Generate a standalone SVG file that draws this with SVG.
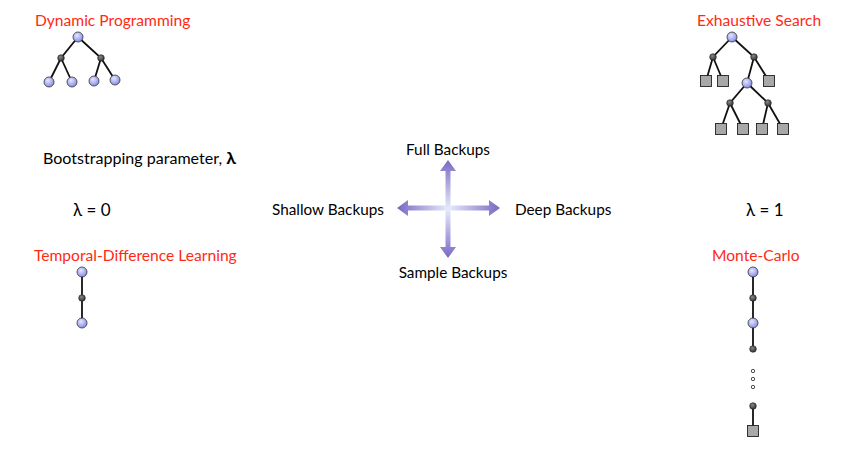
<svg xmlns="http://www.w3.org/2000/svg" width="845" height="454" viewBox="0 0 845 454">
<defs>
<radialGradient id="gb" cx="0.4" cy="0.35" r="0.7"><stop offset="0" stop-color="#e4e6ff"/><stop offset="1" stop-color="#7f86e6"/></radialGradient>
<radialGradient id="gd" cx="0.4" cy="0.35" r="0.7"><stop offset="0" stop-color="#888"/><stop offset="1" stop-color="#2a2a2a"/></radialGradient>
<linearGradient id="gh" x1="397" y1="0" x2="500" y2="0" gradientUnits="userSpaceOnUse"><stop offset="0" stop-color="#7868c4"/><stop offset="0.5" stop-color="#e6ecfb"/><stop offset="1" stop-color="#7868c4"/></linearGradient>
<linearGradient id="gv" x1="0" y1="160" x2="0" y2="258" gradientUnits="userSpaceOnUse"><stop offset="0" stop-color="#7868c4"/><stop offset="0.5" stop-color="#e6ecfb"/><stop offset="1" stop-color="#7868c4"/></linearGradient>
</defs>
<style>
text{font-family:"Lato","Liberation Sans",sans-serif;font-size:15.3px;fill:#000}
.r{fill:#ff2a14;font-size:15.6px}
.l{font-size:17px}
.e{stroke:#111;stroke-width:1.8;fill:none}
.b{fill:url(#gb);stroke:#333;stroke-width:0.8}
.d{fill:url(#gd);stroke:#222;stroke-width:0.6}
.s{fill:#a8a8a8;stroke:#222;stroke-width:0.9}
.o{fill:#fff;stroke:#222;stroke-width:0.8}
</style>
<g id="dp">
<text class="r" x="35" y="26">Dynamic Programming</text>
<path class="e" d="M78 37L61 58L49 82M61 58L72 82M78 37L101 58L94 81M101 58L115 80"/>
<circle class="b" cx="78" cy="37" r="5"/>
<circle class="d" cx="61" cy="58" r="3.3"/><circle class="d" cx="101" cy="58" r="3.3"/>
<circle class="b" cx="49" cy="82" r="5"/><circle class="b" cx="72" cy="82" r="5"/><circle class="b" cx="94" cy="81" r="5"/><circle class="b" cx="115" cy="80" r="5"/>
</g>
<g id="es">
<text class="r" x="697" y="26">Exhaustive Search</text>
<path class="e" d="M732 37L713 57L706 81M713 57L723 81M732 37L754 57L747 83M754 57L769 81M747 83L730 103L721 129M730 103L743 129M747 83L768 103L762 129M768 103L783 129"/>
<circle class="b" cx="732" cy="37" r="5"/>
<circle class="d" cx="713" cy="57" r="3.3"/><circle class="d" cx="754" cy="57" r="3.3"/>
<rect class="s" x="700.5" y="75.5" width="11" height="11"/><rect class="s" x="717.5" y="75.5" width="11" height="11"/><rect class="s" x="763.5" y="75.5" width="11" height="11"/>
<circle class="b" cx="747" cy="83" r="5"/>
<circle class="d" cx="730" cy="103" r="3.3"/><circle class="d" cx="768" cy="103" r="3.3"/>
<rect class="s" x="715.5" y="123.5" width="11" height="11"/><rect class="s" x="737.5" y="123.5" width="11" height="11"/><rect class="s" x="756.5" y="123.5" width="11" height="11"/><rect class="s" x="777.5" y="123.5" width="11" height="11"/>
</g>
<g id="labels">
<text x="43" y="164" textLength="193" lengthAdjust="spacingAndGlyphs">Bootstrapping parameter, <tspan class="l" font-weight="bold">λ</tspan></text>
<text class="l" x="73" y="216">λ = 0</text>
<text class="l" x="746" y="216">λ = 1</text>
<text x="448" y="155" text-anchor="middle">Full Backups</text>
<text x="272" y="215">Shallow Backups</text>
<text x="515" y="215">Deep Backups</text>
<text x="453" y="278" text-anchor="middle">Sample Backups</text>
</g>
<g id="connectors">
<path fill="url(#gh)" d="M397 208L408 200L408 205.5L489 205.5L489 200L500 208L489 216L489 210.5L408 210.5L408 216Z"/>
<path fill="url(#gv)" d="M448 160L456 171L450.5 171L450.5 247L456 247L448 258L440 247L445.5 247L445.5 171L440 171Z"/>
</g>
<g id="td">
<text class="r" x="34" y="261">Temporal-Difference Learning</text>
<path class="e" d="M82 272L82 323"/>
<circle class="b" cx="82" cy="272" r="5"/><circle class="d" cx="82" cy="298" r="3.3"/><circle class="b" cx="82" cy="323" r="5"/>
</g>
<g id="mc">
<text class="r" x="712" y="261">Monte-Carlo</text>
<path class="e" d="M753 272L753 349M753 406L753 430"/>
<circle class="b" cx="753" cy="272" r="5"/><circle class="d" cx="753" cy="298" r="3.3"/><circle class="b" cx="753" cy="323" r="5"/><circle class="d" cx="753" cy="349" r="3.3"/>
<circle class="o" cx="753" cy="371" r="1.7"/><circle class="o" cx="753" cy="379" r="1.7"/><circle class="o" cx="753" cy="387" r="1.7"/>
<circle class="d" cx="753" cy="406" r="3.3"/>
<rect class="s" x="747.5" y="425.5" width="11" height="11"/>
</g>
</svg>
